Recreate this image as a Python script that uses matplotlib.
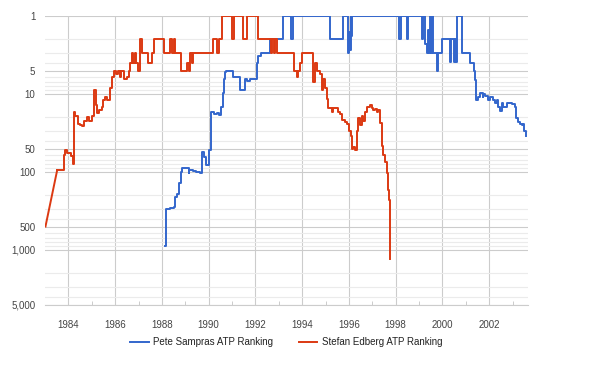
"""Pete Sampras vs Stefan Edberg weekly ATP ranking, log-scale rank axis."""

import matplotlib

matplotlib.use("Agg")
import matplotlib.pyplot as plt  # noqa: E402
from matplotlib.ticker import FixedLocator, LogLocator, NullFormatter  # noqa: E402

BLUE = "#3366CC"
RED = "#DC3912"
GRID_MAJOR = "#CCCCCC"
GRID_MINOR = "#EBEBEB"
TEXT = "#444444"

# ranking change points (year, rank)
sampras_year = [
    1988.15, 1988.16, 1988.36, 1988.50, 1988.57, 1988.66, 1988.74, 1988.83, 1988.88,
    1989.00, 1989.14, 1989.18, 1989.34, 1989.47, 1989.61, 1989.71, 1989.81, 1989.90,
    1990.00, 1990.11, 1990.24, 1990.35, 1990.43, 1990.53, 1990.61, 1990.67, 1990.71,
    1990.75, 1991.06, 1991.36, 1991.56, 1991.65, 1991.78, 1992.06, 1992.11, 1992.25,
    1992.63, 1993.20, 1993.52, 1993.59, 1995.20, 1995.76, 1995.98, 1996.02, 1996.05,
    1996.08, 1996.11, 1996.14, 1998.16, 1998.23, 1998.50, 1998.54, 1999.14, 1999.18,
    1999.26, 1999.33, 1999.37, 1999.43, 1999.47, 1999.51, 1999.57, 1999.61, 1999.78,
    1999.81, 1999.97, 2000.32, 2000.37, 2000.51, 2000.55, 2000.58, 2000.61, 2000.84,
    2001.18, 2001.35, 2001.39, 2001.44, 2001.52, 2001.61, 2001.72, 2001.75, 2001.82,
    2001.96, 2002.03, 2002.18, 2002.25, 2002.32, 2002.39, 2002.46, 2002.53, 2002.60,
    2002.75, 2002.99, 2003.10, 2003.15, 2003.24, 2003.32, 2003.39, 2003.44, 2003.50,
    2003.56, 2003.59,
]
sampras_rank = [
    890, 300, 290, 280, 207, 190, 140, 100, 90,
    88, 104, 95, 98, 100, 104, 55, 65, 81,
    52, 17, 18, 17.5, 18.5, 14.5, 9.8, 6.5, 5.2,
    5, 6, 8.9, 6.5, 6.8, 6.5, 4, 3.3, 3,
    2, 1, 2, 1, 2, 1, 3, 1.6, 2.7,
    1, 1.8, 1, 2, 1, 2, 1, 2, 1,
    2.3, 3, 1.5, 3, 1, 3, 1, 3, 5,
    3, 2, 3.85, 2, 3.85, 2, 3.85, 1, 3,
    4, 5, 6.6, 11.9, 11, 9.8, 11, 10, 10.5,
    11.9, 11, 12, 13, 12, 14.5, 16.6, 13, 14.5,
    13, 13.5, 14.5, 20.5, 23, 24, 25, 24, 30,
    33, 35,
]

edberg_year = [
    1983.02, 1983.52, 1983.83, 1983.87, 1983.96, 1984.11, 1984.18, 1984.23, 1984.30,
    1984.40, 1984.51, 1984.60, 1984.68, 1984.80, 1984.88, 1985.01, 1985.11, 1985.18,
    1985.23, 1985.32, 1985.44, 1985.50, 1985.58, 1985.67, 1985.76, 1985.87, 1985.94,
    1986.05, 1986.12, 1986.20, 1986.26, 1986.36, 1986.52, 1986.59, 1986.65, 1986.72,
    1986.78, 1986.84, 1986.91, 1986.96, 1987.08, 1987.15, 1987.42, 1987.58, 1987.65,
    1988.07, 1988.36, 1988.43, 1988.50, 1988.57, 1988.82, 1989.07, 1989.14, 1989.21,
    1989.29, 1989.35, 1990.18, 1990.35, 1990.43, 1990.57, 1991.00, 1991.08, 1991.49,
    1991.64, 1992.12, 1992.65, 1992.72, 1992.78, 1992.85, 1992.93, 1993.66, 1993.77,
    1993.83, 1993.91, 1994.00, 1994.47, 1994.53, 1994.63, 1994.77, 1994.84, 1994.91,
    1994.98, 1995.06, 1995.12, 1995.27, 1995.34, 1995.55, 1995.62, 1995.70, 1995.84,
    1995.91, 1996.02, 1996.08, 1996.12, 1996.19, 1996.26, 1996.34, 1996.41, 1996.48,
    1996.55, 1996.62, 1996.69, 1996.76, 1996.91, 1996.99, 1997.05, 1997.12, 1997.19,
    1997.26, 1997.33, 1997.41, 1997.47, 1997.55, 1997.62, 1997.69, 1997.72, 1997.75,
    1997.78,
]
edberg_rank = [
    500, 95, 60, 52, 57, 62, 79, 17, 19,
    24, 25, 26, 22, 20, 22, 19, 9, 14,
    17.5, 16, 14.5, 12, 11, 12, 8.5, 6, 5,
    5.5, 5, 6, 5, 6.5, 6, 5, 4, 3,
    4, 3, 4, 5, 2, 3, 4, 3, 2,
    3, 2, 3, 2, 3, 5, 4, 5, 3,
    4, 3, 2, 3, 2, 1, 2, 1, 2,
    1, 2, 3, 2, 3, 2, 3, 5, 6,
    5, 4, 3, 7, 4, 5, 5.5, 9, 6.5,
    8.5, 11.5, 15, 17, 15, 17, 18, 21.6, 23,
    24, 30, 35, 50, 48, 52, 30, 20.5, 25,
    19, 22, 17, 14.5, 14, 15, 16, 15.5, 17,
    16, 23.7, 47, 60, 74, 104, 170, 230, 265,
    1320,
]

rank_ticks = [1, 5, 10, 50, 100, 500, 1000, 5000]
rank_labels = ["1", "5", "10", "50", "100", "500", "1,000", "5,000"]
year_ticks = list(range(1984, 2003, 2))

plt.rcParams.update({"font.family": ["Liberation Sans", "DejaVu Sans"]})

fig = plt.figure(figsize=(6.0, 3.73), dpi=100)
ax = fig.add_axes([0.075, 0.1836, 0.8045, 0.7735])

ax.plot(sampras_year, sampras_rank, color=BLUE, linewidth=1.4,
        drawstyle="steps-post", label="Pete Sampras ATP Ranking", zorder=3)
# first stretch of Edberg's line is a straight join, the rest are weekly steps
ax.plot(edberg_year[:2], edberg_rank[:2], color=RED, linewidth=1.4, zorder=3)
ax.plot(edberg_year[1:], edberg_rank[1:], color=RED, linewidth=1.4,
        drawstyle="steps-post", label="Stefan Edberg ATP Ranking", zorder=3)

ax.set_yscale("log")
ax.set_ylim(5000, 1)
ax.set_xlim(1983.0, 2003.65)

ax.yaxis.set_major_locator(FixedLocator(rank_ticks))
ax.set_yticklabels(rank_labels)
ax.yaxis.set_minor_locator(LogLocator(base=10, subs=(2, 3, 4, 6, 7, 8, 9)))
ax.yaxis.set_minor_formatter(NullFormatter())
ax.set_xticks(year_ticks)
ax.set_xticklabels([str(y) for y in year_ticks])
ax.set_xticks(list(range(1985, 2004, 2)), minor=True)

ax.grid(True, which="major", axis="both", color=GRID_MAJOR, linewidth=0.8)
ax.grid(True, which="minor", axis="y", color=GRID_MINOR, linewidth=0.8)
ax.set_axisbelow(True)

for side in ("top", "right", "left"):
    ax.spines[side].set_visible(False)
ax.spines["bottom"].set_color(GRID_MAJOR)
ax.spines["bottom"].set_linewidth(0.8)

ax.tick_params(axis="y", which="both", length=0, pad=7, labelsize=7, colors=TEXT)
ax.tick_params(axis="x", which="major", length=0, pad=11, labelsize=7, colors=TEXT)
ax.tick_params(axis="x", which="minor", direction="in", length=3, width=0.7,
               color=GRID_MAJOR)

leg = ax.legend(loc="center", bbox_to_anchor=(0.5, -0.13), ncol=2, frameon=False,
                fontsize=7, handlelength=1.9, handletextpad=0.5, columnspacing=2.6)
for text in leg.get_texts():
    text.set_color("#222222")

fig.savefig("out.png", dpi=100, facecolor="white")
